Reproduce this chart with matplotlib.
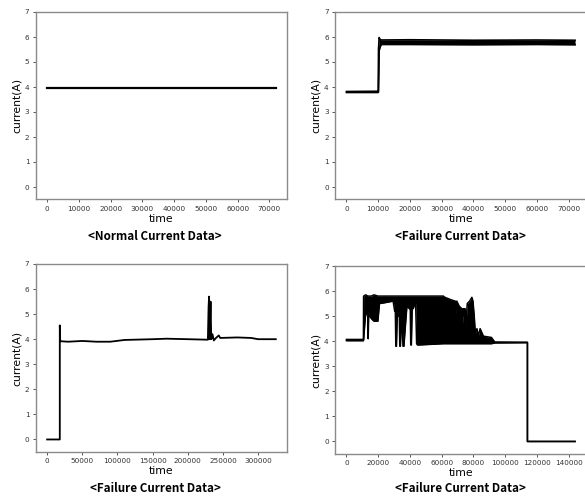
import matplotlib.pyplot as plt
import numpy as np

plt.rcParams['font.family'] = ['DejaVu Sans']

# panel 1 : normal current
t1 = [0, 72000]
v1 = [3.97, 3.97]

# panel 2 : failure, band envelope (hi / lo)
t2 = [0, 10000, 10100, 10300, 10600, 11000, 20000, 40000, 60000, 72000]
hi2 = [3.82, 3.83, 5.5, 5.98, 5.9, 5.88, 5.89, 5.87, 5.88, 5.87]
lo2 = [3.78, 3.78, 3.8, 5.45, 5.6, 5.7, 5.7, 5.69, 5.7, 5.69]

# panel 3 : failure, single trace
t3 = [0, 18000, 18000, 18600, 30000, 50000, 70000, 90000, 110000, 150000, 170000,
      200000, 228500, 229500, 230200, 231000, 232300, 233300, 235000, 237000, 240000,
      244000, 246000, 270000, 290000, 300000, 325000]
v3 = [0, 0, 4.55, 3.92, 3.9, 3.93, 3.9, 3.9, 3.97, 4.0, 4.02,
      4.0, 3.98, 5.3, 5.7, 4.0, 5.5, 4.0, 4.2, 3.95, 4.05,
      4.15, 4.05, 4.07, 4.05, 4.0, 4.0]

# panel 4 : failure, band envelope (hi / lo)
t4 = [0, 10700, 10800, 12200, 13400, 13700, 14000, 14700, 15700, 17300, 19800, 20800,
      25400, 29400, 30400, 30800, 31100, 31500, 32000, 33300, 33600, 34000, 34500,
      35200, 35600, 36200, 37000, 38100, 39600, 40200, 40500, 40900, 41400, 42100,
      43000, 43600, 44200, 44700, 45700, 61000, 62000, 66000, 68500, 69000, 69500,
      71000, 72600, 73100, 73600, 74100, 74600, 75100, 75600, 76100, 77600, 79000,
      79700, 80500, 81200, 82200, 83000, 84200, 86300, 91300, 93400, 114000, 114000, 144000]
hi4 = [4.07, 4.07, 5.8, 5.85, 5.8, 5.8, 5.8, 5.8, 5.8, 5.85, 5.8, 5.8,
       5.8, 5.8, 5.8, 5.8, 5.8, 5.8, 5.8, 5.8, 5.8, 5.8, 5.8,
       5.8, 5.8, 5.8, 5.8, 5.8, 5.8, 5.8, 5.8, 5.8, 5.8, 5.8,
       5.8, 5.8, 5.8, 5.8, 5.8, 5.8, 5.75, 5.65, 5.6, 5.1, 5.6,
       5.4, 5.3, 4.7, 5.3, 5.0, 5.3, 4.5, 5.0, 5.5, 5.6, 5.75,
       5.6, 5.0, 4.3, 4.5, 4.2, 4.5, 4.2, 4.15, 3.97, 3.96, 0.0, 0.0]
lo4 = [4.02, 4.02, 4.05, 5.2, 5.0, 4.1, 5.0, 5.0, 4.9, 4.8, 4.8, 5.5,
       5.55, 5.6, 5.2, 5.2, 3.8, 3.8, 5.0, 5.0, 3.8, 3.8, 4.6,
       4.6, 3.8, 3.8, 4.5, 5.4, 5.3, 5.3, 3.85, 3.85, 5.3, 5.3,
       5.5, 5.5, 3.9, 3.85, 3.85, 3.9, 3.9, 3.9, 3.9, 3.9, 3.9,
       3.9, 3.9, 3.9, 3.9, 3.9, 3.9, 3.9, 3.9, 3.9, 3.9, 3.9,
       3.9, 3.9, 3.9, 3.9, 3.9, 3.9, 3.9, 3.9, 3.93, 3.94, 0.0, 0.0]

captions = ['<Normal Current Data>', '<Failure Current Data>',
            '<Failure Current Data>', '<Failure Current Data>']
cap_pos = [(155, 237), (460, 237), (155, 488), (460, 488)]

fig = plt.figure(figsize=(5.85, 4.98), dpi=100)
W, H = 585.0, 498.0
boxes = [(35.7, 12, 251.5, 187.5), (335, 12, 251.5, 187.5),
         (35.7, 264, 251.5, 188), (335, 266, 251.5, 188)]
axs = [fig.add_axes([x / W, 1 - (y + h) / H, w / W, h / H]) for x, y, w, h in boxes]

lc = 'black'
axs[0].plot(t1, v1, c=lc, lw=1.6)
axs[1].fill_between(t2, lo2, hi2, color=lc, lw=0)
axs[1].plot(t2, hi2, c=lc, lw=1.2)
axs[1].plot(t2, lo2, c=lc, lw=1.2)
axs[2].plot(t3, v3, c=lc, lw=1.3)
axs[3].fill_between(t4, lo4, hi4, color=lc, lw=0)
axs[3].plot(t4, hi4, c=lc, lw=1.1)
axs[3].plot(t4, lo4, c=lc, lw=1.1)

for i, ax in enumerate(axs):
    ax.set_ylim(-0.5, 7)
    ax.set_yticks(range(8))
    for s in ax.spines.values():
        s.set_color('#8a8a8a')
        s.set_linewidth(1.0)
    ax.tick_params(labelsize=5.2, length=2.5, width=0.7, color='#555555',
                   labelcolor='#333333', pad=2)
    ax.set_xlabel('time', fontsize=7.8, labelpad=1.5)
    ax.set_ylabel('current(A)', fontsize=7.8, labelpad=2)
    cx, cy = cap_pos[i]
    fig.text(cx / W, 1 - cy / H, captions[i], ha='center', va='center',
             fontsize=8.4, fontweight='bold', family=['Noto Sans CJK KR', 'DejaVu Sans'])

axs[3].set_xticks(range(0, 140001, 20000))

fig.savefig('out.png', dpi=100)
